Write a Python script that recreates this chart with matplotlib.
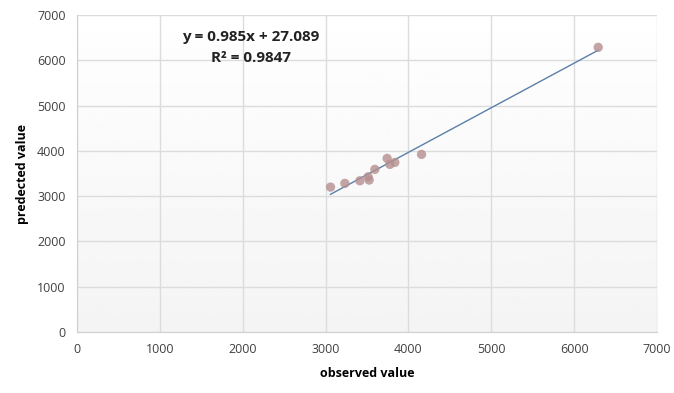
import numpy as np
import matplotlib.pyplot as plt

observed = [3060, 3233, 3414, 3526, 3514, 3595, 3743, 3776, 3836, 4158, 6289]
predicted = [3200, 3282, 3340, 3355, 3428, 3591, 3834, 3701, 3745, 3922, 6285]
slope = 0.985
intercept = 27.089
r_squared = 0.9847

plt.rcParams['font.family'] = ['Open Sans', 'DejaVu Sans']

fig = plt.figure(figsize=(6.74, 3.93), dpi=100)
ax = fig.add_axes([0.114, 0.155, 0.861, 0.807])

# faint vertical gradient like the Excel plot area
grad = np.linspace(0.93, 1.0, 256).reshape(-1, 1)
ax.imshow(grad, extent=[0, 7000, 0, 7000], aspect='auto', cmap='gray',
          vmin=0, vmax=1, origin='lower', zorder=0, alpha=0.6)

ax.scatter(observed, predicted, s=45, color='#b58f8f', alpha=0.8,
           edgecolors='none', zorder=3)
xs = np.array([min(observed), max(observed)])
ax.plot(xs, slope * xs + intercept, color='#5b7fa8', lw=1, zorder=2)

ax.set_xlim(0, 7000)
ax.set_ylim(0, 7000)
ax.set_xticks(range(0, 7001, 1000))
ax.set_yticks(range(0, 7001, 1000))
ax.grid(True, color='#dcdcdc', lw=1, zorder=1)
ax.set_axisbelow(True)
for s in ['top', 'right']:
    ax.spines[s].set_visible(False)
for s in ['left', 'bottom']:
    ax.spines[s].set_color('#d0d0d0')
ax.tick_params(length=0, labelsize=9, colors='#404040', pad=8)

ax.set_xlabel('observed value', fontsize=9, fontweight='bold', labelpad=8)
ax.set_ylabel('predected value', fontsize=9, fontweight='bold', labelpad=6)

ax.text(2100, 6510, 'y = 0.985x + 27.089', ha='center', va='center',
        fontsize=11, fontweight='bold', color='#222222')
ax.text(2100, 6040, 'R² = %.4f' % r_squared, ha='center', va='center',
        fontsize=11, fontweight='bold', color='#222222')

fig.savefig('out.png', dpi=100)
